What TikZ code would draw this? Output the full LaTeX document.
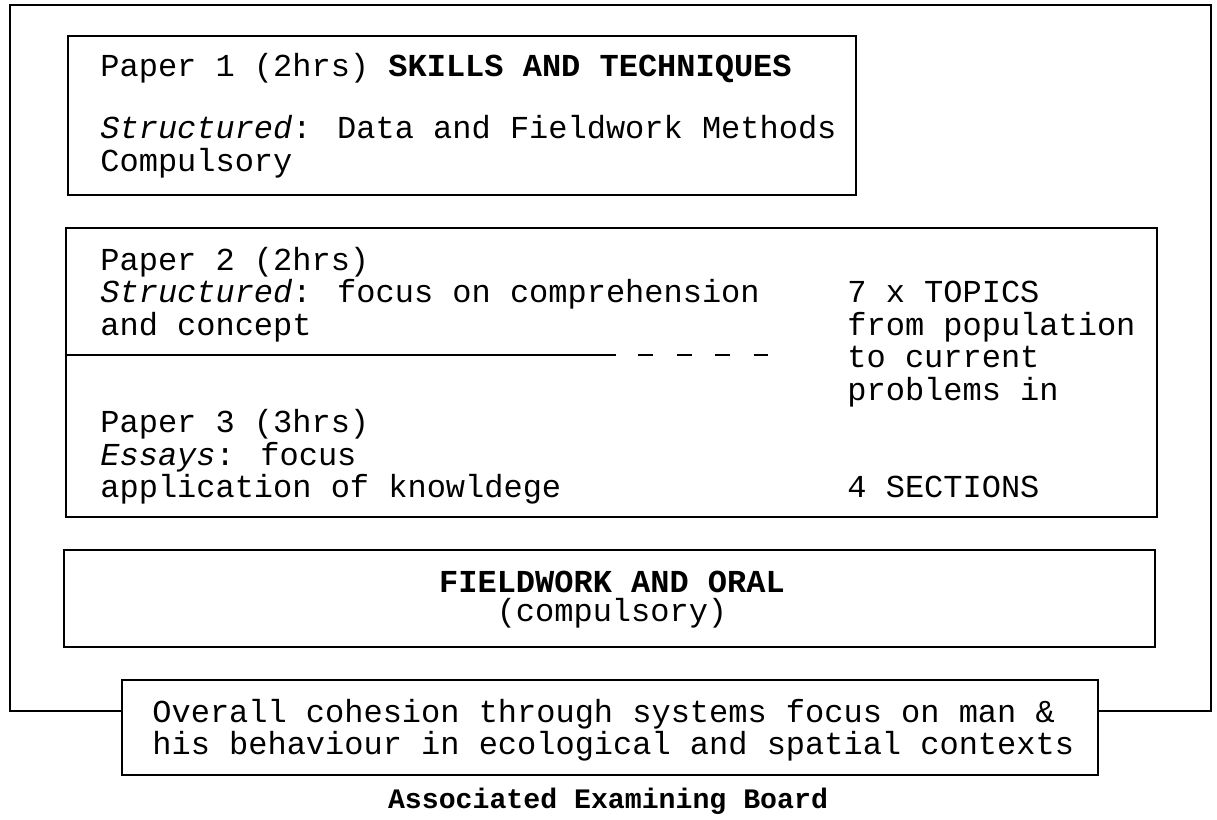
\documentclass[tikz,border=0pt]{standalone}
\usepackage{fontspec}
\setmainfont{Liberation Mono}
\usetikzlibrary{calc}
\begin{document}
\begin{tikzpicture}[x=0.5pt,y=-0.5pt,
  box/.style={draw,line width=1.3pt,rectangle,inner sep=0pt},
  frame/.style={draw,line width=1.3pt,line join=miter},
  txt/.style={anchor=base west,inner sep=0pt,font=\fontsize{16}{16.25}\selectfont},
  ctxt/.style={anchor=base,inner sep=0pt,font=\fontsize{16}{16.25}\selectfont}]
\useasboundingbox (0,0) rectangle (1217,820);
% boxes
\node[box,minimum width=394pt,minimum height=79.5pt] (p1) at (462,115.5) {};
\node[box,minimum width=545.5pt,minimum height=144.5pt] (p23) at (611.5,372.5) {};
\node[box,minimum width=545.5pt,minimum height=48.5pt] (fw) at (609.5,598.5) {};
\node[box,minimum width=488pt,minimum height=47.5pt] (coh) at (610,727.5) {};
% outer frame
\coordinate (tl) at (10,5);
\coordinate (tr) at (1211,5);
\coordinate (jl) at ($(coh.north west)!0.33!(coh.south west)$);
\coordinate (jr) at ($(coh.north east)!0.33!(coh.south east)$);
\draw[frame] (jl) -| (tl) -- (tr) |- (jr);
% divider
\coordinate (dv) at (616,355);
\coordinate (ds) at (638,355);
\coordinate (de) at (768,355);
\draw[line width=1.3pt] (p23.west |- dv) -- (dv);
\draw[line width=1.3pt,dash pattern=on 7.5pt off 11.75pt] (ds) -- (de);
% paper 1
\node[txt] (p1a) at (100,76) {Paper 1 (2hrs) \textbf{SKILLS AND TECHNIQUES}};
\node[txt] (p1b) at (100,138) {\textit{Structured}: Data and Fieldwork Methods};
\node[txt] (p1c) at (100,171) {Compulsory};
% paper 2
\node[txt] (p2a) at (100,270) {Paper 2 (2hrs)};
\node[txt] (p2b) at (100,302) {\textit{Structured}: focus on comprehension};
\node[txt] (p2c) at (100,335) {and concept};
% paper 3
\node[txt] (p3a) at (100,432) {Paper 3 (3hrs)};
\node[txt] (p3b) at (100,465) {\textit{Essays}: focus};
\node[txt] (p3c) at (100,497) {application of knowldege};
% right column
\node[txt] (ra) at (847,302) {7 x TOPICS};
\node[txt] (rb) at (847,335) {from population};
\node[txt] (rc) at (847,367) {to current};
\node[txt] (rd) at (847,400) {problems in};
\node[txt] (re) at (847,497) {4 SECTIONS};
% fieldwork
\node[ctxt] (fwa) at (612,592) {\textbf{FIELDWORK AND ORAL}};
\node[ctxt] (fwb) at (612,621) {(compulsory)};
% cohesion
\node[txt] (ca) at (152,722) {Overall cohesion through systems focus on man \&};
\node[txt] (cb) at (152,754) {his behaviour in ecological and spatial contexts};
% caption
\node[anchor=base,inner sep=0pt,font=\fontsize{14.1}{15}\selectfont\bfseries] (cap) at (608,808) {Associated Examining Board};
\end{tikzpicture}
\end{document}
